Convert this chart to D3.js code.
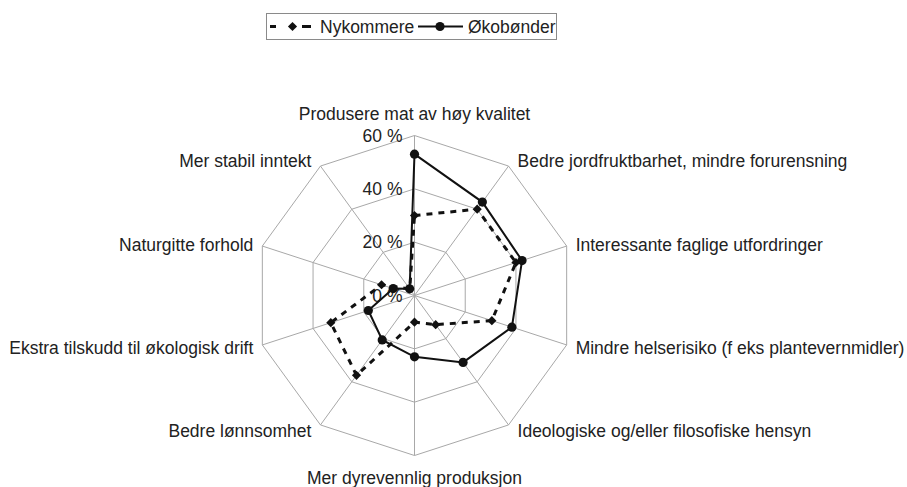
<!DOCTYPE html>
<html>
<head>
<meta charset="utf-8">
<script src="https://cdn.jsdelivr.net/npm/d3@7"></script>
<style>
  html, body { margin: 0; padding: 0; background: #fff; }
  svg { display: block; }
  text { font-family: "Liberation Sans", Arial, sans-serif; fill: #222; }
</style>
</head>
<body>
<svg id="chart" width="907" height="487"></svg>
<script>
const categories = [
  "Produsere mat av høy kvalitet",
  "Bedre jordfruktbarhet, mindre forurensning",
  "Interessante faglige utfordringer",
  "Mindre helserisiko (f eks plantevernmidler)",
  "Ideologiske og/eller filosofiske hensyn",
  "Mer dyrevennlig produksjon",
  "Bedre lønnsomhet",
  "Ekstra tilskudd til økologisk drift",
  "Naturgitte forhold",
  "Mer stabil inntekt"
];
const nykommere = [30, 40, 40, 30.5, 13.5, 10, 37, 33, 13, 3];
const okobonder = [53, 43.3, 42.4, 38.4, 31, 23, 20.6, 18.2, 8.4, 3.1];
const ticks = [0, 20, 40, 60];
const tickLabels = ["0 %", "20 %", "40 %", "60 %"];
const seriesNames = ["Nykommere", "Økobønder"];

const svg = d3.select("#chart");
const cx = 414.5, cy = 295.5, R = 160;
const FS = 17.5;
const r = d3.scaleLinear().domain([0, 60]).range([0, R]);
const n = categories.length;
const ang = d3.scaleLinear().domain([0, n]).range([0, 2 * Math.PI]);
const pt = (i, v) => [cx + r(v) * Math.sin(ang(i)), cy - r(v) * Math.cos(ang(i))];

const g = svg.append("g");

// grid rings
ticks.filter(t => t > 0).forEach(t => {
  g.append("path")
    .attr("d", d3.line()(d3.range(n).map(i => pt(i, t))) + "Z")
    .attr("fill", "none").attr("stroke", "#a8a8a8").attr("stroke-width", 1);
});
// spokes
d3.range(n).forEach(i => {
  const [x, y] = pt(i, 60);
  g.append("line").attr("x1", cx).attr("y1", cy).attr("x2", x).attr("y2", y)
    .attr("stroke", "#a8a8a8").attr("stroke-width", 1);
});

// tick labels
ticks.forEach((t, k) => {
  g.append("text")
    .attr("x", cx - 12).attr("y", cy - r(t))
    .attr("dy", "0.35em")
    .attr("text-anchor", "end")
    .attr("font-size", FS)
    .text(tickLabels[k]);
});

// category labels
categories.forEach((c, i) => {
  const a = ang(i);
  const [vx, vy] = pt(i, 60);
  const s = Math.sin(a), co = Math.cos(a);
  let x = vx, y = vy, anchor = "middle";
  if (Math.abs(s) < 0.1) {
    y = vy + (co > 0 ? -22 : 22);
  } else {
    anchor = s > 0 ? "start" : "end";
    x = vx + (s > 0 ? 9 : -9);
    y = vy - co * 7 + 0.5;
  }
  g.append("text")
    .attr("x", x).attr("y", y).attr("dy", "0.35em")
    .attr("text-anchor", anchor)
    .attr("font-size", FS)
    .text(c);
});

const radial = d3.lineRadial()
  .angle((d, i) => ang(i))
  .radius(d => r(d))
  .curve(d3.curveLinearClosed);

// Nykommere dashed
g.append("path")
  .attr("transform", `translate(${cx},${cy})`)
  .attr("d", radial(nykommere))
  .attr("fill", "none").attr("stroke", "#111").attr("stroke-width", 3)
  .attr("stroke-dasharray", "6,6");
// Økobønder solid
g.append("path")
  .attr("transform", `translate(${cx},${cy})`)
  .attr("d", radial(okobonder))
  .attr("fill", "none").attr("stroke", "#111").attr("stroke-width", 2);

nykommere.forEach((v, i) => {
  const [x, y] = pt(i, v);
  g.append("path").attr("d", d3.symbol().type(d3.symbolSquare).size(42)())
    .attr("transform", `translate(${x},${y}) rotate(45)`)
    .attr("fill", "#111");
});
okobonder.forEach((v, i) => {
  const [x, y] = pt(i, v);
  g.append("circle").attr("cx", x).attr("cy", y).attr("r", 4.6).attr("fill", "#111");
});

// legend
const lg = svg.append("g");
lg.append("rect").attr("x", 266.5).attr("y", 13.5).attr("width", 290).attr("height", 26)
  .attr("fill", "#fff").attr("stroke", "#8a8a8a").attr("stroke-width", 1);
lg.append("line").attr("x1", 270).attr("x2", 311).attr("y1", 26.5).attr("y2", 26.5)
  .attr("stroke", "#111").attr("stroke-width", 3).attr("stroke-dasharray", "6,26,9");
lg.append("path").attr("d", d3.symbol().type(d3.symbolSquare).size(42)())
  .attr("transform", "translate(292.5,26.5) rotate(45)").attr("fill", "#111");
lg.append("text").attr("x", 320).attr("y", 26.5).attr("dy", "0.35em").attr("font-size", FS).text(seriesNames[0]);
lg.append("line").attr("x1", 418).attr("x2", 463).attr("y1", 26.5).attr("y2", 26.5)
  .attr("stroke", "#111").attr("stroke-width", 2);
lg.append("circle").attr("cx", 440).attr("cy", 26.5).attr("r", 4.6).attr("fill", "#111");
lg.append("text").attr("x", 468).attr("y", 26.5).attr("dy", "0.35em").attr("font-size", FS).text(seriesNames[1]);
</script>
</body>
</html>
